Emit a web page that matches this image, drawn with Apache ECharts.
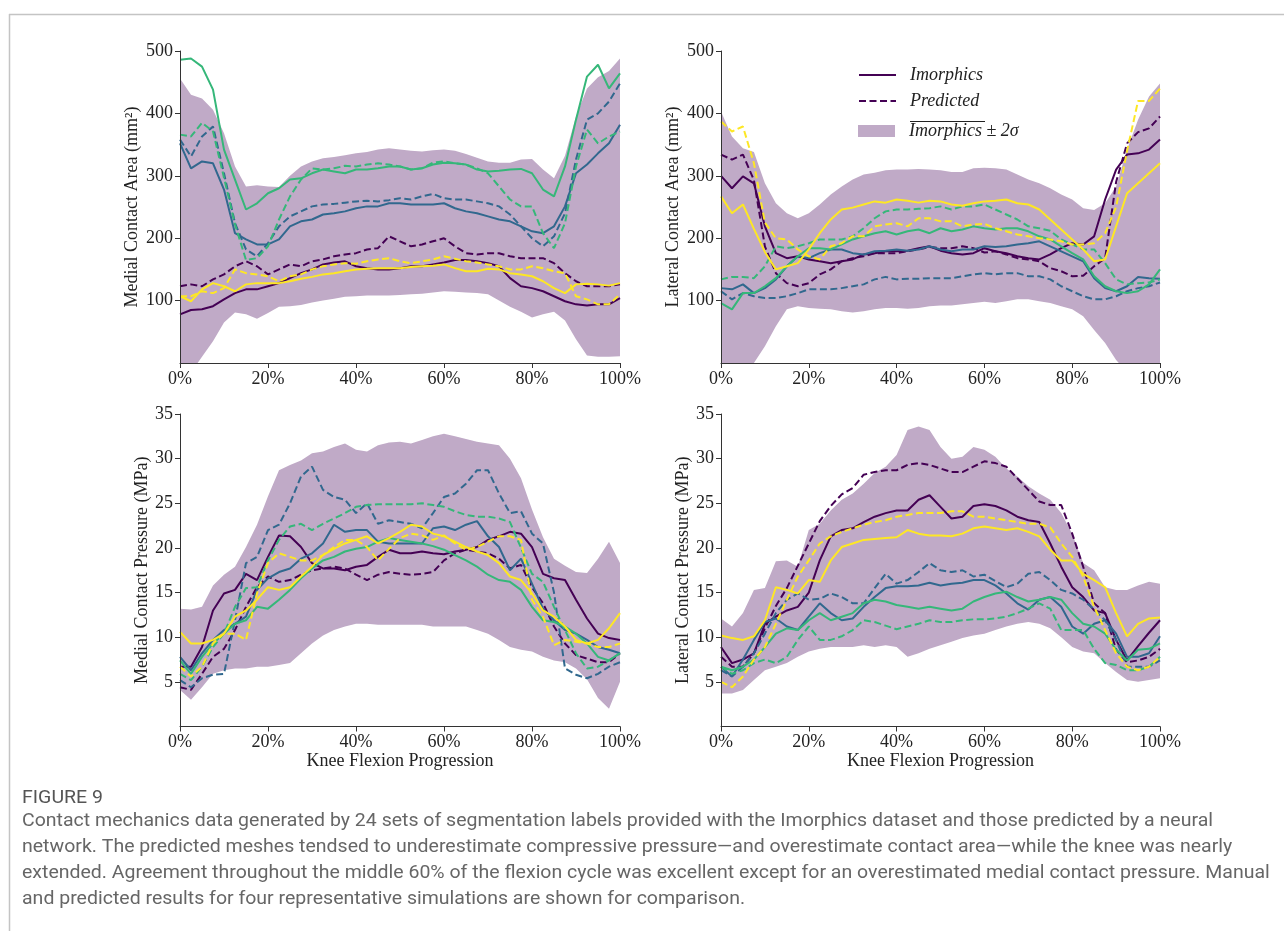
<!DOCTYPE html>
<html><head><meta charset="utf-8">
<script src="https://cdn.jsdelivr.net/npm/echarts@6/dist/echarts.min.js"></script>
<style>html,body{margin:0;padding:0;background:#fff}#c{width:1284px;height:931px}</style>
</head><body><div id="c"></div><script>
// x sample positions (% of flexion)
const pct = [0,2.5,5,7.5,10,12.5,15,17.5,20,22.5,25,27.5,30,32.5,35,37.5,40,42.5,45,47.5,50,52.5,55,57.5,60,62.5,65,67.5,70,72.5,75,77.5,80,82.5,85,87.5,90,92.5,95,97.5,100];
const xTicks = ['0%','20%','40%','60%','80%','100%'];

// ---- Medial contact area (mm^2)
const medAreaBandLo = [-45,-15,10,35,65,81,78,71,80,90,91,93,97,100,103,106,107,108,108,108,109,110,111,113,115,114,113,112,110,100,90,82,73,78,82,68,38,12,10,10,11];
const medAreaBandHi = [456,430,424,406,368,315,283,285,283,282,300,315,323,328,330,333,336,338,342,344,342,340,339,341,342,340,335,329,323,321,321,326,327,310,296,332,395,440,458,468,488];
const medAreaImoPurple = [78,85,86,91,102,112,118,118,123,128,136,144,150,158,161,163,155,152,150,150,152,155,155,158,161,165,165,163,160,155,136,123,120,115,107,99,94,92,94,94,104];
const medAreaPredPurple = [123,126,123,134,142,155,163,155,142,150,158,155,163,166,171,174,176,182,184,203,195,187,190,195,200,187,176,174,176,176,171,168,168,168,160,144,131,123,123,123,126];
const medAreaImoBlue = [352,312,323,320,278,208,198,190,190,198,219,227,230,238,240,243,248,251,251,256,256,254,254,254,256,248,243,240,235,230,227,219,211,208,219,251,304,318,336,352,382];
const medAreaPredBlue = [358,331,363,379,304,224,182,171,192,219,235,243,251,254,255,257,259,260,259,261,264,262,267,271,264,262,262,259,256,251,238,219,200,187,203,240,326,390,400,419,448];
const medAreaImoGreen = [486,488,475,438,342,294,246,256,272,280,294,296,304,310,307,304,310,310,312,315,315,310,312,318,321,320,318,310,307,308,310,311,304,278,267,315,390,459,478,440,464];
const medAreaPredGreen = [366,363,385,371,297,222,165,168,187,230,267,294,312,310,312,316,315,318,320,318,315,310,312,321,323,320,318,312,304,283,262,251,251,208,184,224,315,374,352,363,371];
const medAreaImoYellow = [107,99,118,128,123,115,126,128,128,128,131,135,138,142,144,147,150,151,152,152,152,154,155,156,158,152,147,147,151,150,144,142,139,131,120,112,126,127,126,124,128];
const medAreaPredYellow = [107,107,115,112,120,150,144,142,139,131,139,142,150,155,158,160,159,163,166,168,163,160,163,166,171,167,163,161,158,155,150,150,155,152,147,144,107,102,94,94,110];

// ---- Lateral contact area (mm^2)
const latAreaBandLo = [-85,-58,-29,0,27,59,86,91,88,87,86,83,81,83,86,88,88,87,88,91,92,92,94,96,98,96,99,102,102,99,96,91,86,75,53,32,5,-15,-35,-55,-75];
const latAreaBandHi = [403,363,344,338,288,256,240,232,240,254,270,283,294,302,305,309,310,310,311,310,309,306,306,312,313,312,310,302,294,288,280,270,262,248,245,256,283,342,390,427,448];
const latAreaImoPurple = [300,280,299,288,219,176,168,171,166,163,160,163,166,174,176,179,179,180,184,187,180,176,174,176,184,179,176,171,168,166,174,184,192,190,203,262,310,334,336,342,358];
const latAreaPredPurple = [334,326,334,293,187,144,128,123,128,142,150,163,168,171,176,176,176,179,182,186,184,184,187,184,177,179,174,168,166,163,152,147,139,140,155,168,290,352,370,376,395];
const latAreaImoBlue = [120,118,126,112,120,134,155,171,168,176,182,182,176,174,179,180,182,180,182,187,182,179,182,182,187,186,187,190,192,195,187,179,171,163,136,120,115,123,138,136,135];
const latAreaPredBlue = [115,102,112,107,104,104,107,112,118,118,118,120,123,126,134,138,134,135,135,136,136,136,139,142,144,142,144,144,139,139,134,123,115,107,102,102,107,115,120,123,129];
const latAreaImoGreen = [96,86,112,112,123,136,155,171,184,184,182,190,198,203,208,211,206,211,214,208,216,211,214,219,216,214,216,216,211,203,198,187,176,166,139,123,115,112,115,126,150];
const latAreaPredGreen = [134,138,138,136,155,187,184,187,192,198,198,198,203,216,232,243,246,246,247,248,251,246,251,251,254,246,238,230,219,216,212,198,190,182,182,160,134,126,128,129,134];
const latAreaImoYellow = [267,240,254,215,178,150,155,160,182,208,230,246,249,254,259,257,262,260,257,260,259,254,252,256,259,260,262,256,254,246,230,214,198,182,163,166,219,272,288,304,320];
const latAreaPredYellow = [387,371,379,320,225,200,198,182,171,166,187,192,203,203,219,222,224,219,232,232,227,227,219,222,223,216,211,206,203,200,198,195,190,190,192,208,250,340,420,420,440];

// ---- Medial contact pressure (MPa)
const medPresBandLo = [4.1,3.0,4.4,5.9,6.3,6.5,6.5,6.7,6.7,6.9,7.1,8.2,9.3,10.2,10.8,11.2,11.5,11.5,11.4,11.4,11.4,11.4,11.4,11.2,11.2,11.2,11.2,10.8,10.4,9.7,8.9,8.6,8.4,7.8,7.4,7.2,6.5,5.3,3.2,2.0,5.0];
const medPresBandHi = [13.2,13.1,13.4,15.8,17.0,17.9,20.1,22.6,25.8,28.7,29.3,29.8,30.6,30.8,31.3,31.7,31.0,30.8,31.5,31.8,31.9,31.7,32.1,32.5,32.8,32.5,32.2,31.9,31.7,31.5,30.0,27.8,24.3,21.2,18.8,18.0,17.3,17.2,18.8,20.7,18.3];
const medPresImoPurple = [6.7,6.7,8.9,13.0,14.9,15.3,17.1,16.4,19.0,21.4,21.3,20.1,18.3,17.7,17.7,17.5,17.9,18.1,19.0,19.8,19.4,19.4,19.6,19.4,19.3,19.6,19.8,20.1,20.9,21.3,21.8,21.6,20.1,17.1,16.6,16.4,14.2,12.1,10.4,9.9,9.7];
const medPresPredPurple = [4.4,4.1,5.9,7.8,8.7,10.8,13.4,15.6,16.8,16.2,16.4,17.0,17.5,17.7,17.9,17.7,17.0,16.4,17.0,17.3,17.1,17.0,17.1,17.3,18.6,19.4,19.8,19.6,19.4,18.8,17.7,18.1,15.6,13.8,11.2,9.3,8.0,7.6,7.2,7.2,8.2];
const medPresImoBlue = [7.8,6.3,8.2,9.7,10.8,11.5,12.3,15.3,16.6,17.3,17.7,18.8,19.4,20.5,22.6,21.8,22.0,22.0,20.7,20.5,20.5,20.5,20.5,22.2,22.4,22.0,22.6,23.0,21.3,20.1,17.5,18.8,16.0,13.2,11.9,10.8,10.4,9.7,8.9,8.6,8.2];
const medPresPredBlue = [5.2,4.4,5.4,5.8,5.9,11.9,18.3,19.0,22.0,22.6,25.0,28.0,29.1,26.5,25.7,25.4,23.9,25.0,22.7,23.1,22.9,22.7,22.2,23.9,25.7,26.1,27.2,28.7,28.7,26.1,23.9,24.1,21.6,20.5,15.0,6.5,5.8,5.4,5.9,6.7,7.2];
const medPresImoGreen = [7.4,5.9,7.8,9.3,10.4,11.5,11.9,13.4,13.2,14.2,15.3,16.6,17.7,18.6,19.0,19.6,19.9,20.1,20.7,21.1,20.9,20.7,20.5,20.2,19.8,19.2,18.6,17.9,17.0,16.4,16.2,15.3,13.4,11.9,11.7,11.2,10.4,9.3,7.8,7.4,8.2];
const medPresPredGreen = [5.9,5.2,6.7,8.9,10.4,13.4,15.5,15.6,18.6,20.9,22.4,22.7,22.0,22.7,23.3,23.9,24.6,24.8,24.9,24.9,24.9,24.9,25.0,24.8,24.6,24.1,23.7,23.5,23.5,23.3,22.9,20.0,17.1,16.2,13.4,10.8,8.2,6.5,6.7,7.4,8.2];
const medPresImoYellow = [10.6,9.3,9.3,9.7,10.4,12.3,13.0,14.2,15.6,15.3,15.6,16.8,17.9,19.2,19.9,20.5,20.9,21.3,20.5,21.1,21.8,22.6,22.4,21.6,21.3,20.7,20.1,19.6,19.2,18.3,16.8,16.4,14.9,13.0,12.3,11.2,9.7,9.3,9.7,11.0,12.7];
const medPresPredYellow = [6.7,5.6,6.7,9.3,10.4,10.4,9.7,14.9,18.3,19.4,19.0,18.6,18.6,19.2,20.1,20.9,20.9,20.1,18.6,19.9,21.1,21.6,21.4,20.9,21.4,20.5,19.8,20.1,20.7,21.3,21.3,20.9,14.2,12.3,9.1,9.7,9.5,9.3,8.9,8.9,9.3];

// ---- Lateral contact pressure (MPa)
const latPresBandLo = [3.7,3.7,4.1,5.2,6.3,6.7,7.1,7.8,8.4,8.7,8.9,8.9,8.9,9.1,8.9,9.1,8.9,7.8,8.2,8.7,9.1,9.5,9.9,10.2,10.4,10.8,11.2,11.5,11.7,11.5,11.0,10.0,8.9,8.4,8.2,7.1,6.1,5.2,5.0,5.2,5.4];
const latPresBandHi = [12.1,11.2,12.7,15.3,15.5,18.5,18.6,17.9,22.0,22.7,24.2,25.4,26.1,27.2,28.4,29.1,30.4,33.2,33.6,33.2,31.3,30.0,30.2,31.3,31.0,30.2,28.9,28.0,26.9,26.1,25.4,23.9,21.6,18.3,17.5,15.6,15.3,15.3,15.8,16.2,16.0];
const latPresImoPurple = [8.9,7.1,7.5,8.2,11.5,12.3,13.0,13.4,15.0,18.6,21.3,22.0,22.2,22.9,23.5,23.9,24.2,24.2,25.4,25.9,24.6,23.3,23.5,24.7,24.9,24.7,24.2,23.5,23.1,22.9,20.5,17.9,15.6,14.5,13.0,12.7,9.7,7.4,9.0,10.5,11.9];
const latPresPredPurple = [7.8,6.7,6.7,8.2,11.0,13.5,15.5,18.0,20.5,23.0,24.7,26.0,26.7,28.2,28.5,28.7,28.7,29.3,29.5,29.3,28.9,28.5,28.5,29.1,29.7,29.5,29.1,27.8,26.5,25.2,24.8,24.8,21.6,17.9,13.8,12.7,8.6,7.2,7.4,7.8,8.7];
const latPresImoBlue = [6.7,5.6,7.5,9.7,11.7,12.1,11.2,10.8,12.3,13.8,12.7,11.9,12.1,13.4,14.5,15.5,15.7,15.7,15.8,16.1,15.8,16.0,16.1,16.4,16.4,15.8,14.9,13.8,13.1,14.2,14.5,13.4,11.2,10.4,11.5,11.9,10.4,7.8,7.8,8.2,10.1];
const latPresPredBlue = [6.3,5.6,6.7,8.2,10.4,12.7,14.2,14.9,14.2,14.3,14.9,14.5,13.8,13.8,15.5,17.1,16.0,16.4,17.3,18.3,17.5,17.3,17.5,16.8,17.0,16.3,15.6,16.0,17.1,17.3,16.4,15.3,14.9,14.2,13.1,11.9,9.7,6.7,6.7,6.7,7.4];
const latPresImoGreen = [6.7,6.3,6.7,7.5,8.9,10.4,11.0,10.8,11.9,12.7,11.9,12.3,12.7,13.8,14.2,14.0,13.6,13.4,13.2,13.4,13.2,13.0,13.2,14.0,14.5,14.9,15.1,14.5,14.0,14.2,14.5,14.2,12.7,11.5,11.2,10.4,8.6,7.4,8.6,8.7,9.3];
const latPresPredGreen = [6.7,5.9,6.3,7.1,7.5,7.1,7.8,9.7,11.2,9.7,9.7,10.1,10.8,11.9,11.7,11.3,10.9,11.2,11.5,11.9,11.7,11.7,11.9,12.0,12.0,12.1,12.3,12.7,13.2,13.8,13.2,10.8,10.8,10.8,8.7,7.1,6.9,6.3,6.3,6.7,7.8];
const latPresImoYellow = [10.2,9.9,9.7,10.1,11.9,15.6,15.3,14.9,16.4,16.2,18.6,20.1,20.5,20.9,21.0,21.1,21.2,22.0,21.6,21.4,21.4,21.3,21.6,22.2,22.4,22.2,22.0,22.2,21.8,21.3,19.8,18.6,18.6,17.1,16.4,15.6,12.7,10.1,11.5,12.1,12.2];
const latPresPredYellow = [5.0,4.4,5.6,7.5,8.9,11.5,14.2,16.8,18.6,20.5,21.3,21.8,22.2,22.6,22.9,23.1,23.5,23.7,23.9,23.9,23.9,24.1,24.1,23.5,23.5,23.3,23.1,22.9,22.7,22.7,22.3,20.5,19.0,16.8,13.4,10.8,8.2,6.7,6.3,6.7,7.8];

const yLabels = ['Medial Contact Area (mm²)','Lateral Contact Area (mm²)','Medial Contact Pressure (MPa)','Lateral Contact Pressure (MPa)'];
const xLabel = 'Knee Flexion Progression';
const legendNames = ['Imorphics','Predicted','Imorphics ± 2σ'];
const captionTitle = 'FIGURE 9';
const captionLines = [
 'Contact mechanics data generated by 24 sets of segmentation labels provided with the Imorphics dataset and those predicted by a neural',
 'network. The predicted meshes tendsed to underestimate compressive pressure—and overestimate contact area—while the knee was nearly',
 'extended. Agreement throughout the middle 60% of the flexion cycle was excellent except for an overestimated medial contact pressure. Manual',
 'and predicted results for four representative simulations are shown for comparison.'
];

const PURPLE='#440154', BLUE='#31688e', GREEN='#35b779', YELLOW='#fde725', BAND='#c0aac7';
const SERIF = "'Liberation Serif','Times New Roman',serif";
const AX = '#333';
const CAP_FONT_FAMILY = "Roboto, 'Noto Sans', sans-serif";

const panels = [
  {lo:medAreaBandLo, hi:medAreaBandHi, lines:[[medAreaImoPurple,medAreaPredPurple,PURPLE],[medAreaImoBlue,medAreaPredBlue,BLUE],[medAreaImoGreen,medAreaPredGreen,GREEN],[medAreaImoYellow,medAreaPredYellow,YELLOW]]},
  {lo:latAreaBandLo, hi:latAreaBandHi, lines:[[latAreaImoPurple,latAreaPredPurple,PURPLE],[latAreaImoBlue,latAreaPredBlue,BLUE],[latAreaImoGreen,latAreaPredGreen,GREEN],[latAreaImoYellow,latAreaPredYellow,YELLOW]]},
  {lo:medPresBandLo, hi:medPresBandHi, lines:[[medPresImoPurple,medPresPredPurple,PURPLE],[medPresImoBlue,medPresPredBlue,BLUE],[medPresImoGreen,medPresPredGreen,GREEN],[medPresImoYellow,medPresPredYellow,YELLOW]]},
  {lo:latPresBandLo, hi:latPresBandHi, lines:[[latPresImoPurple,latPresPredPurple,PURPLE],[latPresImoBlue,latPresPredBlue,BLUE],[latPresImoGreen,latPresPredGreen,GREEN],[latPresImoYellow,latPresPredYellow,YELLOW]]}
];

const grids = [
  {left:180, top:51, width:440, height:312},
  {left:721, top:51, width:439, height:312},
  {left:180, top:414, width:440, height:312.5},
  {left:721, top:414, width:439, height:312.5}
];

function pairs(arr){ return pct.map((p,i)=>[p, arr[i]]); }

const xAxes = grids.map((g,i)=>({
  gridIndex:i, type:'value', min:0, max:100, interval:20, z:5,
  axisLine:{show:true, lineStyle:{color:AX, width:1}},
  axisTick:{show:true, length:5, lineStyle:{color:AX}},
  splitLine:{show:false},
  axisLabel:{color:'#222', fontFamily:SERIF, fontSize:18, margin:7, formatter:(v)=>xTicks[Math.round(v/20)]},
  name: i>=2 ? xLabel : '', nameLocation:'middle', nameGap:24,
  nameTextStyle:{color:'#222', fontFamily:SERIF, fontSize:18}
}));
const yAxes = grids.map((g,i)=>({
  gridIndex:i, type:'value', min:0, max: i<2?500:35, interval: i<2?100:5, z:5,
  axisLine:{show:true, lineStyle:{color:AX, width:1}},
  axisTick:{show:true, length:5, lineStyle:{color:AX}},
  splitLine:{show:false},
  axisLabel:{color:'#222', fontFamily:SERIF, fontSize:18, margin:7, showMinLabel:false},
  name: yLabels[i], nameLocation:'middle', nameGap: i<2?39:29,
  nameTextStyle:{color:'#222', fontFamily:SERIF, fontSize:18}
}));

const series = [];
panels.forEach((pn, gi)=>{
  // ±2σ band drawn as one polygon through the axis scales
  series.push({
    type:'custom', xAxisIndex:gi, yAxisIndex:gi, z:1, silent:true,
    data: pct.map((p,i)=>[p, pn.lo[i], pn.hi[i]]),
    encode:{x:0, y:[1,2]},
    renderItem:(params, api)=>{
      if (params.dataIndex !== 0) return null;
      const pts = [];
      for (let i=0;i<pct.length;i++) pts.push(api.coord([pct[i], pn.hi[i]]));
      for (let i=pct.length-1;i>=0;i--) pts.push(api.coord([pct[i], pn.lo[i]]));
      const cs = params.coordSys;
      return {type:'polygon', shape:{points:pts}, style:{fill:BAND},
        clipPath:{type:'rect', shape:{x:cs.x, y:cs.y, width:cs.width, height:cs.height}}};
    }
  });
  pn.lines.forEach(([imo,pred,col])=>{
    series.push({type:'line', xAxisIndex:gi, yAxisIndex:gi, data:pairs(imo), symbol:'none',
      lineStyle:{color:col, width:2}, z:3, silent:true});
    series.push({type:'line', xAxisIndex:gi, yAxisIndex:gi, data:pairs(pred), symbol:'none',
      lineStyle:{color:col, width:2, type:[7,3.5]}, z:3, silent:true});
  });
});
// legend-only series
series.push({name:legendNames[0], type:'line', xAxisIndex:1, yAxisIndex:1, data:[], symbol:'none', color:PURPLE, lineStyle:{color:PURPLE, width:2}});
series.push({name:legendNames[1], type:'line', xAxisIndex:1, yAxisIndex:1, data:[], symbol:'none', color:PURPLE, lineStyle:{color:PURPLE, width:2, type:[7,3.5]}});
series.push({name:legendNames[2], type:'line', xAxisIndex:1, yAxisIndex:1, data:[], symbol:'none', color:BAND, lineStyle:{color:BAND}});

// caption sizing: fit the first line to the reference text width
const mctx = document.createElement('canvas').getContext('2d');
mctx.font = "19px " + CAP_FONT_FAMILY;
const capScale = 1191 / mctx.measureText(captionLines[0]).width;

const graphics = [
  {type:'line', shape:{x1:9, y1:14.5, x2:1284, y2:14.5}, style:{stroke:'#c4c4c4', lineWidth:1.5}, silent:true},
  {type:'line', shape:{x1:9.5, y1:14, x2:9.5, y2:931}, style:{stroke:'#c4c4c4', lineWidth:1.5}, silent:true},
  {type:'line', shape:{x1:910, y1:121.5, x2:985, y2:121.5}, style:{stroke:'#222', lineWidth:1}, silent:true},
  {type:'text', x:22, y:789, scaleX:capScale, style:{text:captionTitle, fill:'#555', font:"19px " + CAP_FONT_FAMILY}, silent:true}
];
captionLines.forEach((t,i)=>{
  graphics.push({type:'text', x:22, y:812+i*26, scaleX:capScale, style:{text:t, fill:'#666', font:"19px " + CAP_FONT_FAMILY}, silent:true});
});

const legendText = {fontFamily:SERIF, fontStyle:'italic', fontSize:18, color:'#222', padding:[0,0,0,9],
  rich:{i:{fontFamily:SERIF, fontStyle:'italic', fontSize:18, color:'#222'},
        n:{fontFamily:SERIF, fontSize:18, color:'#222'}}};

const chart = echarts.init(document.getElementById('c'), null, {renderer:'canvas'});
chart.setOption({
  animation:false,
  backgroundColor:'#fff',
  grid:grids,
  xAxis:xAxes,
  yAxis:yAxes,
  legend:[{
    left:858, top:66, padding:0, orient:'vertical', itemWidth:37, itemHeight:12, itemGap:8, selectedMode:false,
    textStyle:legendText,
    data:[
      {name:legendNames[0], itemStyle:{color:'rgba(0,0,0,0)', opacity:0, borderWidth:0}},
      {name:legendNames[1], itemStyle:{color:'rgba(0,0,0,0)', opacity:0, borderWidth:0}}
    ]
  },{
    left:858, top:122, padding:0, orient:'vertical', itemWidth:37, itemHeight:12, selectedMode:false,
    textStyle:legendText,
    data:[{name:legendNames[2], icon:'rect', itemStyle:{color:BAND}}],
    formatter:()=> '{i|Imorphics} {n|± 2σ}'
  }],
  series:series,
  graphic:graphics
});
</script></body></html>
